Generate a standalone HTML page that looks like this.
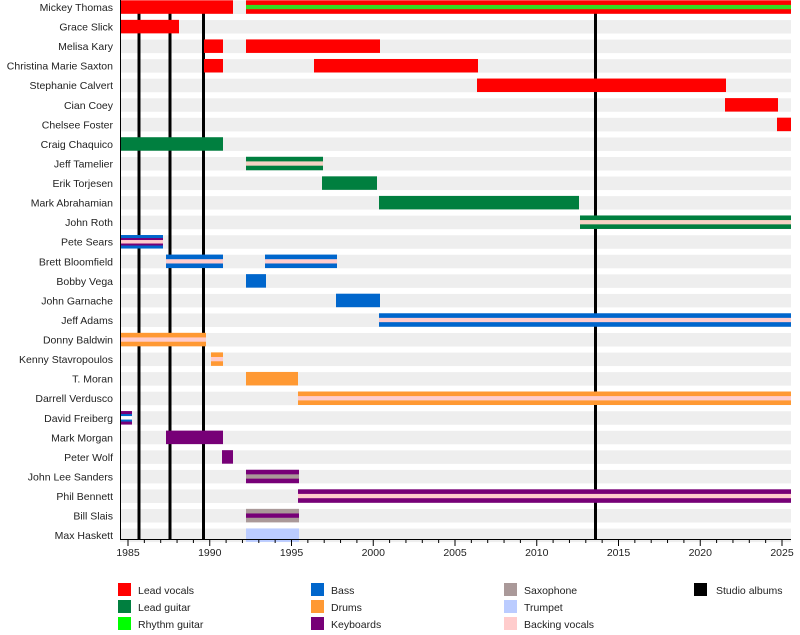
<!DOCTYPE html>
<html><head><meta charset="utf-8"><style>body{margin:0;background:#fff}svg{display:block}text{font-family:"Liberation Sans",sans-serif;font-size:10.5px;fill:#222}</style></head><body>
<svg width="800" height="635" xmlns="http://www.w3.org/2000/svg">
<g id="bg"></g>
<g id="lines" stroke="#000" stroke-width="3"><line x1="139" y1="13" x2="139" y2="539"/><line x1="170" y1="13" x2="170" y2="539"/><line x1="203.5" y1="13" x2="203.5" y2="539"/><line x1="595.5" y1="13" x2="595.5" y2="539"/></g>
<g id="bars"></g>
<line x1="120.5" y1="0" x2="120.5" y2="540" stroke="#000"/>
<line x1="120" y1="539.5" x2="791" y2="539.5" stroke="#000"/>
<g id="ticks" stroke="#000"></g>
<g id="lab"></g>
<g>
<rect x="118" y="583" width="13" height="13" fill="#f00"/><text x="138" y="594">Lead vocals</text>
<rect x="118" y="600" width="13" height="13" fill="#007f3f"/><text x="138" y="611">Lead guitar</text>
<rect x="118" y="617" width="13" height="13" fill="#0f0"/><text x="138" y="628">Rhythm guitar</text>
<rect x="311" y="583" width="13" height="13" fill="#0066cc"/><text x="331" y="594">Bass</text>
<rect x="311" y="600" width="13" height="13" fill="#ff9933"/><text x="331" y="611">Drums</text>
<rect x="311" y="617" width="13" height="13" fill="#770077"/><text x="331" y="628">Keyboards</text>
<rect x="504" y="583" width="13" height="13" fill="#aa9999"/><text x="524" y="594">Saxophone</text>
<rect x="504" y="600" width="13" height="13" fill="#bbccff"/><text x="524" y="611">Trumpet</text>
<rect x="504" y="617" width="13" height="13" fill="#ffcccc"/><text x="524" y="628">Backing vocals</text>
<rect x="694" y="583" width="13" height="13" fill="#000"/><text x="716" y="594">Studio albums</text>
</g>
</svg>
<script>
const names=["Mickey Thomas","Grace Slick","Melisa Kary","Christina Marie Saxton","Stephanie Calvert","Cian Coey","Chelsee Foster","Craig Chaquico","Jeff Tamelier","Erik Torjesen","Mark Abrahamian","John Roth","Pete Sears","Brett Bloomfield","Bobby Vega","John Garnache","Jeff Adams","Donny Baldwin","Kenny Stavropoulos","T. Moran","Darrell Verdusco","David Freiberg","Mark Morgan","Peter Wolf","John Lee Sanders","Phil Bennett","Bill Slais","Max Haskett"];
const R="#f00",G="#007f3f",RG="#33dd22",B="#0066cc",O="#ff9933",P="#770077",S="#aa9999",T="#bbccff",BV="#ffcccc",PK="#f6d2c4";
const bars=[
[0,120,233,R],[0,246,791,R,RG],
[1,120,179,R],[2,204,223,R],[2,246,380,R],[3,204,223,R],[3,314,478,R],[4,477,726,R],[5,725,778,R],[6,777,791,R],
[7,120,223,G],[8,246,323,G,PK],[9,322,377,G],[10,379,579,G],[11,580,791,G,PK],
[12,120,163,B,P,BV],[13,166,223,B,BV],[13,265,337,B,BV],[14,246,266,B],[15,336,380,B],[16,379,791,B,BV],
[17,120,206,O,BV],[18,211,223,O,BV],[19,246,298,O],[20,298,791,O,BV],
[21,120,132,P,B,"#fff"],[22,166,223,P],[23,222,233,P],[24,246,299,P,S],[25,298,791,P,BV],
[26,246,299,S,P],[27,246,299,T]];
const ns="http://www.w3.org/2000/svg";
function el(p,t,a,txt){const e=document.createElementNS(ns,t);for(const k in a)e.setAttribute(k,a[k]);if(txt)e.textContent=txt;document.getElementById(p).appendChild(e);}
const ty=i=>i*19.56;
names.forEach((n,i)=>{el("bg","rect",{x:120,y:ty(i)+0.5,width:671,height:13.5,fill:"#eeeeee"});el("lab","text",{x:113,y:ty(i)+11,"text-anchor":"end"},n);});
bars.forEach(b=>{const[i,x1,x2,c,s,s2]=b;const y=ty(i)+0.3;const w=x2-x1;
el("bars","rect",{x:x1,y:y,width:w,height:13.5,fill:c});
if(s)el("bars","rect",{x:x1,y:y+(s2?3:4.6),width:w,height:s2?7.5:4.3,fill:s});
if(s2)el("bars","rect",{x:x1,y:y+5,width:w,height:3.5,fill:s2});});
for(let yr=1985;yr<=2025;yr++){const x=128+(yr-1985)*16.35;const maj=yr%5==0;el("ticks","line",{x1:x,y1:540,x2:x,y2:maj?546:543});
if(maj)el("lab","text",{x:x,y:556,"text-anchor":"middle"},String(yr));}
</script>
</body></html>
